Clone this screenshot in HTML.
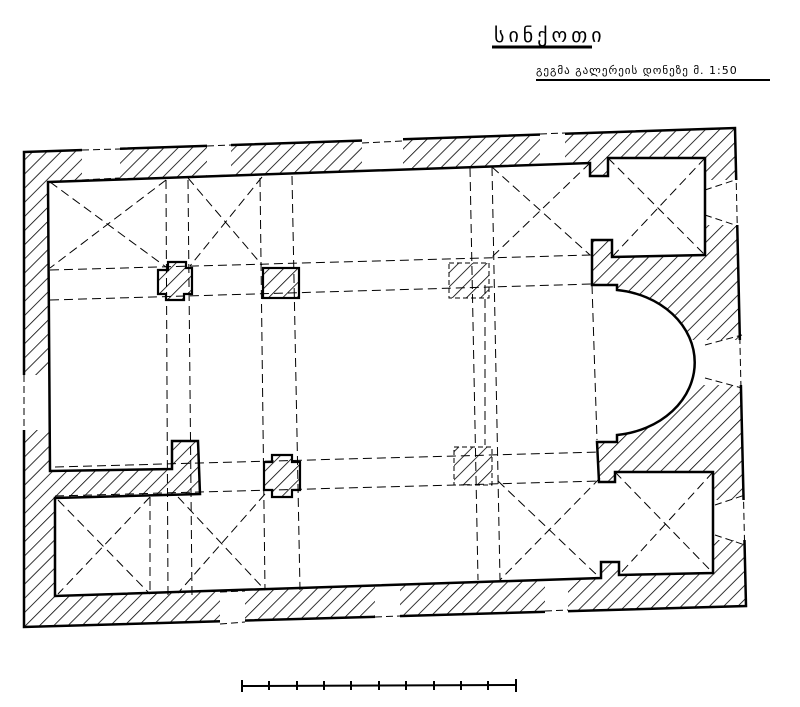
<!DOCTYPE html>
<html><head><meta charset="utf-8"><style>
html,body{margin:0;padding:0;background:#fff;width:800px;height:707px;overflow:hidden}
svg{display:block}
</style></head><body>
<svg width="800" height="707" viewBox="0 0 800 707" xmlns="http://www.w3.org/2000/svg">
<defs>
<pattern id="h" patternUnits="userSpaceOnUse" width="10" height="10" patternTransform="rotate(45)">
<rect width="10" height="10" fill="#fff"/><line x1="0" y1="0" x2="0" y2="10" stroke="#000" stroke-width="1.6"/>
</pattern>
</defs>
<text x="494" y="42" font-family="DejaVu Sans, sans-serif" font-size="20" letter-spacing="4">სინქოთი</text>
<line x1="492" y1="47" x2="592" y2="47" stroke="#000" stroke-width="3"/>
<text x="536" y="74" font-family="DejaVu Sans, sans-serif" font-size="11" letter-spacing="1">გეგმა გალერეის დონეზე  მ. 1:50</text>
<line x1="536" y1="80" x2="770" y2="80" stroke="#000" stroke-width="2"/>

<polygon points="24,152 735,128 746,606 24,627" fill="url(#h)" stroke="#000" stroke-width="2.5"/>

<g fill="#fff" stroke="none">
<rect x="82" y="140" width="38" height="45"/>
<rect x="207" y="135" width="24" height="45"/>
<rect x="362" y="130" width="41" height="45"/>
<rect x="540" y="125" width="25" height="45"/>
<rect x="220" y="580" width="25" height="50"/>
<rect x="375" y="575" width="25" height="50"/>
<rect x="545" y="570" width="23" height="45"/>
<rect x="20" y="375" width="32" height="55"/>
<rect x="700" y="180" width="50" height="45"/>
<rect x="690" y="340" width="60" height="45"/>
<rect x="710" y="500" width="40" height="40"/>
</g>
<g stroke="#000" stroke-width="1" stroke-dasharray="7,4" fill="none">
<line x1="82" y1="150" x2="120" y2="149"/><line x1="82" y1="180" x2="120" y2="178"/>
<line x1="207" y1="146" x2="231" y2="145"/><line x1="207" y1="176" x2="231" y2="175"/>
<line x1="362" y1="143" x2="403" y2="141"/><line x1="362" y1="172" x2="403" y2="170"/>
<line x1="540" y1="134" x2="565" y2="133"/><line x1="540" y1="165" x2="565" y2="164"/>
<line x1="220" y1="592" x2="245" y2="591"/><line x1="220" y1="624" x2="245" y2="622"/>
<line x1="375" y1="586" x2="400" y2="585"/><line x1="375" y1="617" x2="400" y2="616"/>
<line x1="545" y1="580" x2="568" y2="579"/><line x1="545" y1="611" x2="568" y2="610"/>
<line x1="24" y1="375" x2="24" y2="430"/><line x1="50" y1="375" x2="50" y2="430"/>
<line x1="735" y1="128" x2="746" y2="606"/>
<line x1="705" y1="190" x2="735" y2="180"/><line x1="705" y1="215" x2="735" y2="225"/>
<line x1="705" y1="345" x2="742" y2="335"/><line x1="705" y1="378" x2="742" y2="388"/>
<line x1="715" y1="505" x2="745" y2="495"/><line x1="715" y1="535" x2="745" y2="545"/>
</g>

<path d="M48,182 L590,163 L590,176 L608,176 L608,158 L705,158 L705,255 L612,257 L612,240 L592,240 L592,285 L617,285 L617,290 A88,73 0 0 1 617,435 L617,442 L597,442 L599,482 L615,482 L615,472 L713,472 L713,573 L619,575 L619,562 L601,562 L601,578 L55,596 L55,498 L200,494 L198,441 L172,441 L172,469 L50,471 Z" fill="#fff" stroke="#000" stroke-width="2.5"/>

<g fill="url(#h)" stroke="#000" stroke-width="2.2">
<polygon points="168,262 186,262 186,268 192,268 192,294 184,294 184,300 166,300 166,294 158,294 158,270 168,270"/>
<rect x="263" y="268" width="36" height="30"/>
<polygon points="272,455 292,455 292,462 300,462 300,490 292,490 292,497 272,497 272,490 264,490 264,462 272,462"/>
</g>
<g fill="url(#h)" stroke="#000" stroke-width="1" stroke-dasharray="5,3">
<rect x="449" y="263" width="40" height="35"/>
<rect x="454" y="447" width="38" height="38"/>
</g>

<g stroke="#000" stroke-width="1" stroke-dasharray="9,5" fill="none">
<line x1="50" y1="270" x2="592" y2="255"/>
<line x1="50" y1="300" x2="592" y2="284"/>
<line x1="55" y1="467" x2="600" y2="452"/>
<line x1="55" y1="496" x2="600" y2="481"/>
<line x1="166" y1="180" x2="168" y2="596"/>
<line x1="188" y1="180" x2="192" y2="596"/>
<line x1="260" y1="178" x2="265" y2="590"/>
<line x1="292" y1="176" x2="300" y2="590"/>
<line x1="470" y1="168" x2="478" y2="580"/>
<line x1="492" y1="167" x2="500" y2="580"/>
<line x1="485" y1="285" x2="485" y2="445"/>
<line x1="592" y1="285" x2="597" y2="440"/>
<line x1="50" y1="182" x2="166" y2="267"/><line x1="166" y1="180" x2="50" y2="268"/>
<line x1="188" y1="178" x2="262" y2="265"/><line x1="262" y1="177" x2="190" y2="266"/>
<line x1="492" y1="167" x2="590" y2="255"/><line x1="590" y1="163" x2="492" y2="257"/>
<line x1="608" y1="158" x2="705" y2="255"/><line x1="705" y1="158" x2="612" y2="257"/>
<line x1="615" y1="472" x2="713" y2="573"/><line x1="713" y1="472" x2="619" y2="575"/>
<line x1="498" y1="481" x2="600" y2="578"/><line x1="600" y1="478" x2="500" y2="580"/>
<line x1="58" y1="500" x2="150" y2="594"/><line x1="150" y1="497" x2="58" y2="594"/>
<line x1="150" y1="497" x2="150" y2="594"/>
<line x1="178" y1="497" x2="265" y2="590"/><line x1="265" y1="494" x2="178" y2="593"/>
</g>

<g stroke="#000" stroke-width="2">
<line x1="242" y1="686" x2="516" y2="685"/>
<line x1="242" y1="680" x2="242" y2="692"/>
<line x1="269" y1="681" x2="269" y2="690"/><line x1="297" y1="681" x2="297" y2="690"/>
<line x1="324" y1="681" x2="324" y2="690"/><line x1="351" y1="681" x2="351" y2="690"/>
<line x1="379" y1="681" x2="379" y2="690"/><line x1="406" y1="681" x2="406" y2="690"/>
<line x1="434" y1="681" x2="434" y2="690"/><line x1="461" y1="681" x2="461" y2="690"/>
<line x1="488" y1="681" x2="488" y2="690"/>
<line x1="516" y1="679" x2="516" y2="692"/>
</g>
</svg>
</body></html>
